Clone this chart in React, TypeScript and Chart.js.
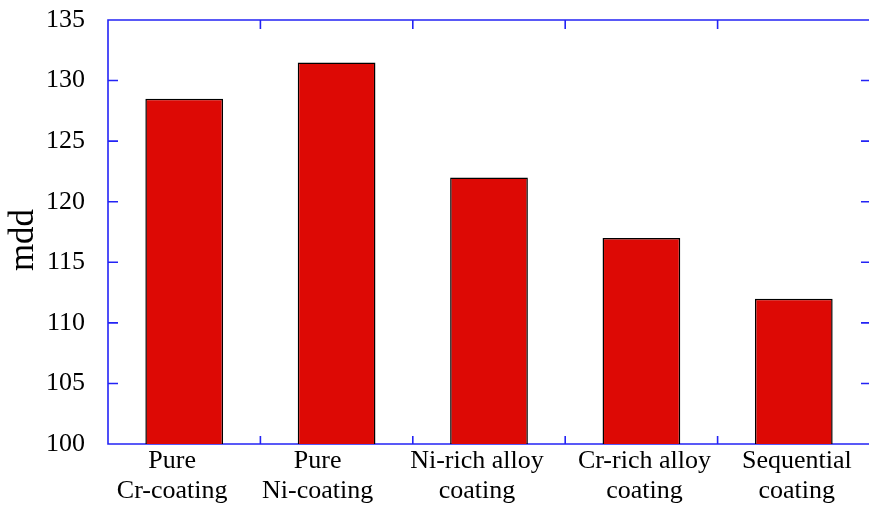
import React, { useEffect, useRef } from "react";
import Chart from "chart.js/auto";

// categories (two-line labels) and values
const categories: string[][] = [
  ["Pure", "Cr-coating"],
  ["Pure", "Ni-coating"],
  ["Ni-rich alloy", "coating"],
  ["Cr-rich alloy", "coating"],
  ["Sequential", "coating"],
];
const mddValues: number[] = [128.5, 131.5, 122, 117, 112];
const yTicks: number[] = [100, 105, 110, 115, 120, 125, 130, 135];

const FONT = "'Liberation Serif', 'Times New Roman', serif";
const AXIS_BLUE = "#2323f5";
// the source plot's category labels sit a little off the bar centres
const labelShift = [-12, -19, -12, 3, 3];

// blue frame with inward ticks, gnuplot style
const framePlugin = {
  id: "frame",
  beforeDatasetsDraw(chart: any) {
    const { ctx, chartArea } = chart;
    const { left, right, top, bottom } = chartArea;
    const y = chart.scales.y;
    const x = chart.scales.x;
    ctx.save();
    ctx.strokeStyle = AXIS_BLUE;
    ctx.lineWidth = 1.6;
    ctx.beginPath();
    ctx.rect(left, top, right - left, bottom - top);
    // y ticks, both sides
    yTicks.forEach((v) => {
      const py = y.getPixelForValue(v);
      ctx.moveTo(left, py);
      ctx.lineTo(left + 10, py);
      ctx.moveTo(right, py);
      ctx.lineTo(right - 9, py);
    });
    // x ticks at category boundaries, top and bottom
    const step = x.getPixelForValue(1) - x.getPixelForValue(0);
    for (let i = 0; i <= categories.length; i++) {
      const px = i < categories.length ? x.getPixelForValue(i) - step / 2 : right;
      ctx.moveTo(px, bottom);
      ctx.lineTo(px, bottom - 8);
      ctx.moveTo(px, top);
      ctx.lineTo(px, top + 9);
    }
    ctx.stroke();
    ctx.restore();
  },
  afterDraw(chart: any) {
    const { ctx, chartArea } = chart;
    const x = chart.scales.x;
    ctx.save();
    ctx.fillStyle = "#000";
    ctx.textAlign = "center";
    ctx.textBaseline = "alphabetic";

    // category labels, two lines each
    ctx.font = `26px ${FONT}`;
    categories.forEach((lines, i) => {
      const cx = x.getPixelForValue(i) + labelShift[i];
      lines.forEach((line, j) => {
        ctx.fillText(line, cx, chartArea.bottom + 24 + j * 29.5);
      });
    });

    // y axis title
    ctx.font = `35px ${FONT}`;
    ctx.translate(33, 240);
    ctx.rotate(-Math.PI / 2);
    ctx.fillText("mdd", 0, 0);
    ctx.restore();
  },
};

const BarChart: React.FC = () => {
  const chartRef = useRef<HTMLCanvasElement>(null);
  const chartInstance = useRef<Chart | null>(null);

  useEffect(() => {
    document.body.style.margin = "0";
    if (!chartRef.current) return;
    if (chartInstance.current) chartInstance.current.destroy();
    const ctx = chartRef.current.getContext("2d");
    if (!ctx) return;

    chartInstance.current = new Chart(ctx, {
      type: "bar",
      data: {
        labels: categories,
        datasets: [
          {
            data: mddValues,
            base: 100,
            backgroundColor: "#dd0905",
            borderColor: "#000000",
            borderWidth: 1.5,
            barPercentage: 0.51,
            categoryPercentage: 1,
            clip: false,
          },
        ],
      },
      options: {
        responsive: false,
        animation: false,
        layout: { padding: { left: 0, top: 20, right: 2, bottom: 0 } },
        plugins: {
          legend: { display: false },
          tooltip: { enabled: false },
        },
        scales: {
          x: {
            grid: { display: false, drawTicks: false },
            border: { display: false },
            ticks: { display: false },
            afterFit: (scale: any) => {
              scale.height = 64;
              scale.paddingLeft = 0;
              scale.paddingRight = 0;
            },
          },
          y: {
            min: 100,
            max: 135,
            grid: { display: false, drawTicks: false },
            border: { display: false },
            ticks: {
              stepSize: 5,
              color: "#000",
              padding: 23,
              font: { family: FONT, size: 26 },
            },
            afterFit: (scale: any) => {
              scale.width = 108;
              scale.paddingTop = 0;
              scale.paddingBottom = 0;
            },
          },
        },
      },
      plugins: [framePlugin],
    });

    return () => {
      if (chartInstance.current) {
        chartInstance.current.destroy();
        chartInstance.current = null;
      }
    };
  }, []);

  return (
    <div
      style={{
        position: "absolute",
        left: 0,
        top: 0,
        width: 869,
        height: 508,
        overflow: "hidden",
        background: "#fff",
      }}
    >
      <canvas ref={chartRef} width={872} height={508} style={{ width: 872, height: 508 }} />
    </div>
  );
};

export default function App() {
  return <BarChart />;
}
